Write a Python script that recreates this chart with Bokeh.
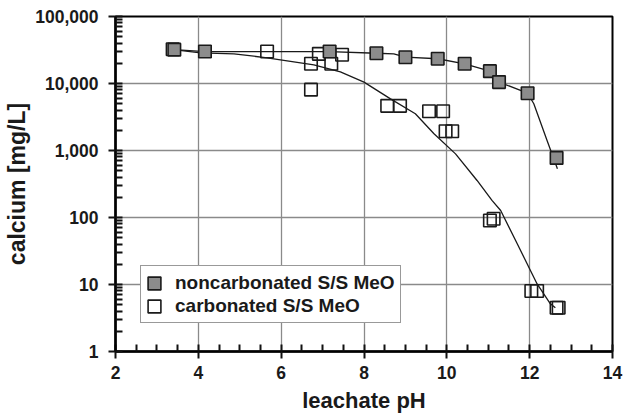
from bokeh.plotting import figure
from bokeh.models import (Legend, LegendItem, LogTicker, SingleIntervalTicker,
                          NumeralTickFormatter)
from bokeh.embed import file_html
from bokeh.resources import INLINE

# ---- data ----
nc_ph = [3.42, 4.16, 7.17, 8.30, 9.00, 9.78, 10.43, 11.04, 11.26, 11.95, 12.65]
nc_ca = [32000, 30000, 30000, 28300, 24700, 23400, 19700, 15300, 10500, 7170, 776]

c_ph = [3.38, 5.66, 6.72, 6.72, 6.91, 7.21, 7.47, 8.56, 8.87, 9.57, 9.91,
        9.97, 10.13, 11.04, 11.13, 12.04, 12.18, 12.65, 12.70]
c_ca = [32500, 30000, 19700, 8100, 27700, 19700, 26800, 4640, 4640, 3860, 3860,
        1940, 1940, 90, 96, 8.0, 8.0, 4.5, 4.5]

nc_fit_ph = [3.42, 4.16, 5.66, 7.17, 8.30, 8.72, 9.00, 9.78, 10.43, 11.04, 11.26,
             11.95, 12.10, 12.42, 12.67]
nc_fit_ca = [32000, 30000, 30000, 30000, 28300, 27700, 24700, 23400, 19700, 15300,
             10500, 7170, 4980, 1410, 533]

c_fit_ph = [3.40, 4.05, 4.86, 5.66, 6.79, 7.43, 8.00, 8.64, 9.24, 9.69, 10.21,
            10.73, 11.09, 11.30, 11.70, 12.18, 12.50, 12.62]
c_fit_ca = [32000, 28700, 27700, 24200, 19000, 14900, 10500, 5900, 3530, 1780,
            890, 357, 180, 127, 40.5, 10.2, 5.15, 4.5]

x_label = "leachate pH"
y_label = "calcium [mg/L]"
series_names = ["noncarbonated S/S MeO", "carbonated S/S MeO"]

FONT = "Liberation Sans"
INK = "#1a1a1a"
GRAY_FILL = "#8c8c8c"

p = figure(width=624, height=417, x_range=(2, 14), y_range=(1, 100000),
           y_axis_type="log", output_backend="svg", toolbar_location=None,
           min_border_left=115, min_border_right=12, min_border_top=16,
           min_border_bottom=66, background_fill_color="white",
           border_fill_color="white")

p.outline_line_color = "black"
p.outline_line_width = 2

# axes
p.xaxis.ticker = SingleIntervalTicker(interval=2, num_minor_ticks=4)
p.yaxis.ticker = LogTicker(desired_num_ticks=6, num_minor_ticks=10)
p.yaxis.formatter = NumeralTickFormatter(format="0,0")
for ax in (p.xaxis[0], p.yaxis[0]):
    ax.axis_line_width = 2.5
    ax.axis_line_color = "black"
    ax.major_tick_line_width = 2
    ax.minor_tick_line_width = 2
    ax.major_tick_line_color = "#111111"
    ax.minor_tick_line_color = "#111111"
    ax.major_tick_in = 0
    ax.major_tick_out = 7
    ax.minor_tick_in = 7
    ax.minor_tick_out = 0
    ax.major_label_text_font = FONT
    ax.major_label_text_font_style = "bold"
    ax.major_label_text_font_size = "17.5px"
    ax.major_label_text_color = INK
    ax.axis_label_text_font = FONT
    ax.axis_label_text_font_style = "bold"
    ax.axis_label_text_color = INK
p.xaxis.axis_label = x_label
p.yaxis.axis_label = y_label
p.xaxis.axis_label_text_font_size = "22px"
p.yaxis.axis_label_text_font_size = "23px"
p.xaxis.major_label_standoff = 7
p.yaxis.major_label_standoff = 10
p.xaxis.axis_label_standoff = 6
p.yaxis.axis_label_standoff = 2

# grid
p.xgrid.grid_line_color = "#8a8a8a"
p.ygrid.grid_line_color = "#8a8a8a"
p.xgrid.grid_line_width = 1.3
p.ygrid.grid_line_width = 1.3
p.ygrid.minor_grid_line_color = None

# fitted curves
p.line(c_fit_ph, c_fit_ca, line_color=INK, line_width=1.3)
p.line(nc_fit_ph, nc_fit_ca, line_color=INK, line_width=1.3)

# square markers drawn as screen-sized rects
r_c = p.rect(c_ph, c_ca, width=12.5, height=12.5, width_units="screen",
             height_units="screen", fill_alpha=0, line_color=INK, line_width=1.6)
r_nc = p.rect(nc_ph, nc_ca, width=12.5, height=12.5, width_units="screen",
              height_units="screen", fill_color=GRAY_FILL, line_color=INK,
              line_width=1.6)

legend = Legend(items=[LegendItem(label=series_names[0], renderers=[r_nc]),
                       LegendItem(label=series_names[1], renderers=[r_c])],
                location=(25, 28))
legend.glyph_width = 16
legend.glyph_height = 16
legend.label_height = 23
legend.spacing = 0
legend.padding = 5
legend.label_standoff = 13
legend.margin = 0
legend.label_text_font = FONT
legend.label_text_font_style = "bold"
legend.label_text_font_size = "19px"
legend.label_text_color = INK
legend.border_line_color = "#333333"
legend.border_line_width = 1.5
legend.background_fill_color = "white"
legend.background_fill_alpha = 1
p.add_layout(legend)

open("out.html", "w").write(file_html(p, INLINE))
